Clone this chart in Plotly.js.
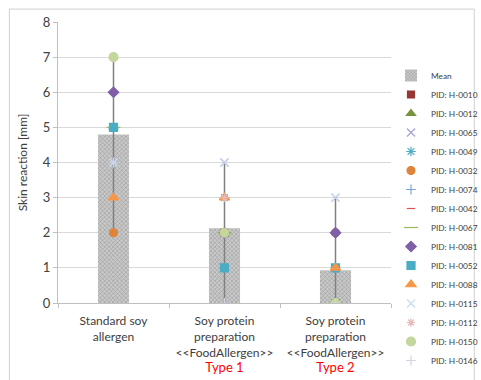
<!DOCTYPE html>
<html>
<head>
<meta charset="utf-8">
<script src="https://cdn.plot.ly/plotly-3.0.1.min.js"></script>
<style>html,body{margin:0;padding:0;background:#fff;}#chart{width:481px;height:380px;}</style>
</head>
<body>
<div id="chart"></div>
<script>
// categories and tick labels
const categories = ['Standard', 'Type1', 'Type2'];
const tickLabels = [
  'Standard soy<br>allergen',
  'Soy protein<br>preparation<br>&lt;&lt;FoodAllergen&gt;&gt;<br><span style="color:#ff0000;font-size:13px">Type 1</span>',
  'Soy protein<br>preparation<br>&lt;&lt;FoodAllergen&gt;&gt;<br><span style="color:#ff0000;font-size:13px">Type 2</span>'
];
// mean skin reaction per category
const meanVals = [4.8, 2.13, 0.93];
// per-patient values
const pidNames = ['PID: H-0010','PID: H-0012','PID: H-0065','PID: H-0049','PID: H-0032','PID: H-0074','PID: H-0042','PID: H-0067','PID: H-0081','PID: H-0052','PID: H-0088','PID: H-0115','PID: H-0112','PID: H-0150','PID: H-0146'];
const H0010 = [5, 2, 0];
const H0012 = [5, 2, 0];
const H0065 = [5, 4, 3];
const H0049 = [5, 3, 1];
const H0032 = [2, 2, 2];
const H0074 = [4, 0, 0];
const H0042 = [5, 2, 1];
const H0067 = [5, 2, 0];
const H0081 = [6, 2, 2];
const H0052 = [5, 1, 1];
const H0088 = [3, 3, 1];
const H0115 = [4, 4, 3];
const H0112 = [7, 3, 0];
const H0150 = [7, 2, 0];
const H0146 = [4, 0, 0];
const pidValues = [H0010,H0012,H0065,H0049,H0032,H0074,H0042,H0067,H0081,H0052,H0088,H0115,H0112,H0150,H0146];

const styles = [
  {symbol:'square', color:'#953735', size:7},
  {symbol:'triangle-up', color:'#77933c', size:8},
  {symbol:'x-thin-open', color:'#a3a3d6', size:8},
  {symbol:'asterisk-open', color:'#4bacc6', size:8},
  {symbol:'circle', color:'#e0843a', size:8},
  {symbol:'cross-thin-open', color:'#7aa6dc', size:7},
  {symbol:'line-ew-open', color:'#d9534f', size:6},
  {symbol:'line-ew-open', color:'#9bbb59', size:10},
  {symbol:'diamond', color:'#7f5fa8', size:8},
  {symbol:'square', color:'#4bacc6', size:8},
  {symbol:'triangle-up', color:'#f79646', size:9},
  {symbol:'x-thin-open', color:'#c9daf0', size:8},
  {symbol:'asterisk-open', color:'#e6b9b8', size:7},
  {symbol:'circle', color:'#c3d69b', size:9},
  {symbol:'cross-thin-open', color:'#cfd4de', size:7}
];

// range lines (min to max across patients)
const maxVals = categories.map((c,i)=>Math.max(...pidValues.map(v=>v[i])));
const minVals = categories.map((c,i)=>Math.min(...pidValues.map(v=>v[i])));

const traces = [{
  type:'bar', name:'Mean', x:categories, y:meanVals, width:0.28,
  marker:{color:'#c4c4c4', pattern:{shape:'x', size:3, solidity:0.3, fgcolor:'#929292', bgcolor:'#c9c9c9'}, line:{width:0}},
  error_y:{type:'data', symmetric:false,
    array: maxVals.map((m,i)=>m-meanVals[i]),
    arrayminus: minVals.map((m,i)=>meanVals[i]-m),
    color:'#808080', thickness:1.5, width:0}
}];
pidValues.forEach((vals,k)=>{
  const s = styles[k];
  traces.push({
    type:'scatter', mode:'markers', name:pidNames[k], x:categories, y:vals,
    marker:{symbol:s.symbol, color:s.color, size:s.size, line:{color:s.color, width:1.2}}
  });
});

const layout = {
  width:481, height:380,
  margin:{l:58, r:74, t:22, b:77},
  paper_bgcolor:'#ffffff', plot_bgcolor:'#ffffff',
  font:{family:'Lato, "Liberation Sans", sans-serif', color:'#404040', size:11},
  showlegend:true,
  legend:{xref:'container', yref:'container', x:391/481, xanchor:'left', y:1 - 218/380, yanchor:'middle',
    maxheight:1,
    font:{size:8.3, color:'#404040'}, itemwidth:30, tracegroupgap:0, bgcolor:'rgba(0,0,0,0)'},
  xaxis:{type:'category', tickvals:categories, ticktext:tickLabels, range:[-0.5,2.5],
    showgrid:false, showline:true, linecolor:'#bfbfbf', linewidth:1,
    ticks:'outside', tickson:'boundaries', ticklen:4, tickcolor:'#bfbfbf',
    ticklabelstandoff:7,
    tickfont:{size:12, color:'#404040'}, zeroline:false},
  yaxis:{range:[0,8], dtick:1, showgrid:true, gridcolor:'#d9d9d9', gridwidth:1,
    showline:true, linecolor:'#bfbfbf', ticks:'outside', ticklen:4, tickcolor:'#bfbfbf',
    tickfont:{size:13, color:'#404040'}, zeroline:false,
    title:{text:'Skin reaction [mm]', font:{size:12, color:'#404040'}, standoff:12}},
  shapes:[{type:'rect', xref:'paper', yref:'paper', x0:-0.146, x1:1.25, y0:-0.3, y1:1.046,
    line:{color:'#d0d0d0', width:1}, fillcolor:'rgba(0,0,0,0)', layer:'below'}]
};

Plotly.newPlot('chart', traces, layout, {displayModeBar:false, staticPlot:true});
</script>
</body>
</html>
